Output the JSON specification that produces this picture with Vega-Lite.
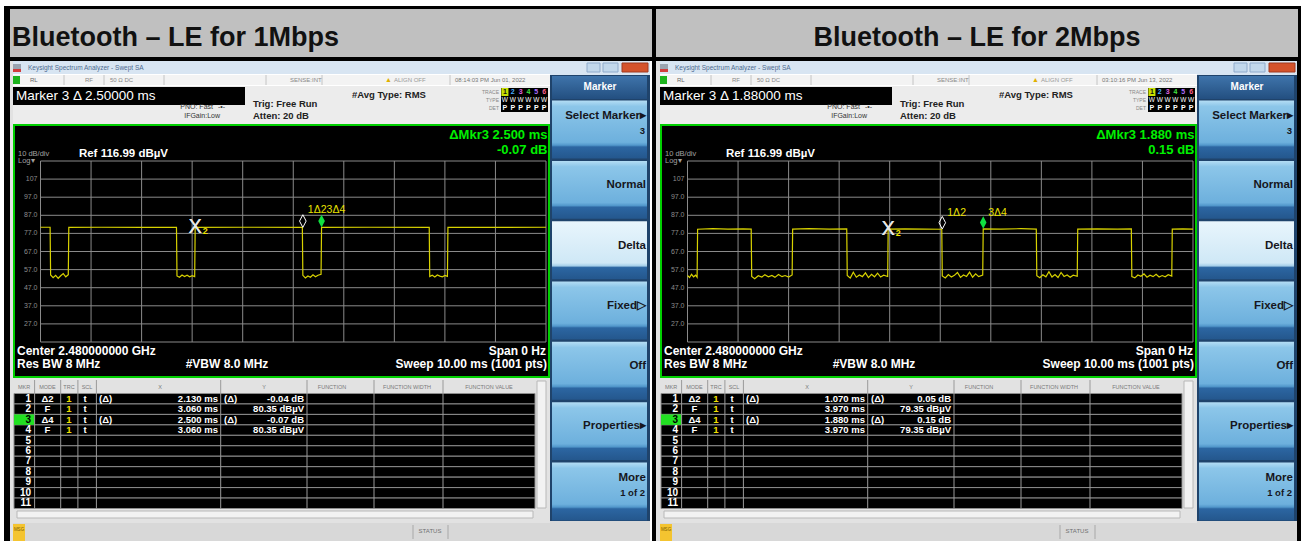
{
"$schema": "https://vega.github.io/schema/vega-lite/v6.json",
"background": "#ffffff",
"padding": {"left": 4, "top": 6, "right": 2, "bottom": 0},
"config": {"font": "Liberation Sans", "view": {"stroke": null}, "concat": {"spacing": 0}},
"spacing": 0,
"datasets": {
"hgrid": [{"db":16.99},{"db":26.99},{"db":36.99},{"db":46.99},{"db":56.99},{"db":66.99},{"db":76.99},{"db":86.99},{"db":96.99},{"db":106.99},{"db":116.99}],
"vgrid": [{"t":0},{"t":1},{"t":2},{"t":3},{"t":4},{"t":5},{"t":6},{"t":7},{"t":8},{"t":9},{"t":10}],
"ylabels": [{"db":106.99,"lab":"107"},{"db":96.99,"lab":"97.0"},{"db":86.99,"lab":"87.0"},{"db":76.99,"lab":"77.0"},{"db":66.99,"lab":"67.0"},{"db":56.99,"lab":"57.0"},{"db":46.99,"lab":"47.0"},{"db":36.99,"lab":"37.0"},{"db":26.99,"lab":"27.0"}],
"tnums": [{"n":1},{"n":2},{"n":3},{"n":4},{"n":5},{"n":6}],
"buttons": [{"key":"Select Marker","label":"Select Marker▸","sub":"3"},{"key":"Normal","label":"Normal","sub":""},{"key":"Delta","label":"Delta","sub":""},{"key":"Fixed","label":"Fixed▷","sub":""},{"key":"Off","label":"Off","sub":""},{"key":"Properties","label":"Properties▸","sub":""},{"key":"More","label":"More","sub":"1 of 2"}],
"traceL": [{"t":0,"db":80.4},{"t":0.19,"db":80.4},{"t":0.2,"db":54.0},{"t":0.25,"db":52.5},{"t":0.3,"db":53.8},{"t":0.35,"db":52.2},{"t":0.4,"db":53.6},{"t":0.45,"db":54.8},{"t":0.5,"db":53.0},{"t":0.55,"db":54.2},{"t":0.56,"db":80.3},{"t":1.2,"db":80.4},{"t":2.0,"db":80.35},{"t":2.69,"db":80.4},{"t":2.7,"db":53.5},{"t":2.75,"db":52.8},{"t":2.8,"db":54.0},{"t":2.85,"db":53.2},{"t":2.9,"db":53.9},{"t":2.95,"db":53.0},{"t":3.0,"db":53.6},{"t":3.05,"db":53.1},{"t":3.06,"db":80.35},{"t":4.0,"db":80.4},{"t":5.18,"db":80.31},{"t":5.19,"db":53.8},{"t":5.24,"db":52.4},{"t":5.29,"db":53.5},{"t":5.34,"db":52.8},{"t":5.39,"db":54.1},{"t":5.44,"db":53.0},{"t":5.49,"db":53.9},{"t":5.55,"db":54.4},{"t":5.56,"db":80.28},{"t":6.5,"db":80.4},{"t":7.69,"db":80.35},{"t":7.7,"db":53.2},{"t":7.75,"db":53.9},{"t":7.8,"db":52.9},{"t":7.85,"db":54.0},{"t":7.9,"db":53.4},{"t":7.95,"db":53.0},{"t":8.0,"db":53.8},{"t":8.05,"db":53.3},{"t":8.06,"db":80.4},{"t":9.0,"db":80.35},{"t":10,"db":80.4}],
"traceR": [{"t":0,"db":53.8},{"t":0.04,"db":52.6},{"t":0.08,"db":54.4},{"t":0.12,"db":53.0},{"t":0.16,"db":53.9},{"t":0.19,"db":52.8},{"t":0.2,"db":79.3},{"t":0.5,"db":79.6},{"t":0.8,"db":79.4},{"t":1.1,"db":79.5},{"t":1.26,"db":79.35},{"t":1.27,"db":53.2},{"t":1.33,"db":52.0},{"t":1.4,"db":53.6},{"t":1.47,"db":52.9},{"t":1.53,"db":54.1},{"t":1.6,"db":53.0},{"t":1.67,"db":53.8},{"t":1.73,"db":52.7},{"t":1.8,"db":54.3},{"t":1.87,"db":53.1},{"t":1.93,"db":53.7},{"t":2.0,"db":52.9},{"t":2.07,"db":54.0},{"t":2.08,"db":79.4},{"t":2.4,"db":79.6},{"t":2.8,"db":79.3},{"t":3.15,"db":79.5},{"t":3.16,"db":53.8},{"t":3.22,"db":52.3},{"t":3.28,"db":55.6},{"t":3.34,"db":52.8},{"t":3.4,"db":54.0},{"t":3.46,"db":53.1},{"t":3.52,"db":55.2},{"t":3.58,"db":52.6},{"t":3.64,"db":54.4},{"t":3.7,"db":53.0},{"t":3.76,"db":55.0},{"t":3.82,"db":52.9},{"t":3.88,"db":53.9},{"t":3.96,"db":53.2},{"t":3.97,"db":79.35},{"t":4.3,"db":79.5},{"t":4.7,"db":79.4},{"t":5.03,"db":79.3},{"t":5.04,"db":53.5},{"t":5.1,"db":52.4},{"t":5.16,"db":54.2},{"t":5.22,"db":52.9},{"t":5.28,"db":53.8},{"t":5.34,"db":55.4},{"t":5.4,"db":52.7},{"t":5.46,"db":54.0},{"t":5.52,"db":53.2},{"t":5.58,"db":55.6},{"t":5.64,"db":52.8},{"t":5.7,"db":54.6},{"t":5.76,"db":53.1},{"t":5.84,"db":54.0},{"t":5.85,"db":79.5},{"t":6.2,"db":79.4},{"t":6.6,"db":79.6},{"t":6.9,"db":79.4},{"t":6.91,"db":53.6},{"t":6.97,"db":52.5},{"t":7.03,"db":54.1},{"t":7.09,"db":53.0},{"t":7.15,"db":55.8},{"t":7.21,"db":52.9},{"t":7.27,"db":54.3},{"t":7.33,"db":52.6},{"t":7.39,"db":55.4},{"t":7.45,"db":53.2},{"t":7.51,"db":54.0},{"t":7.57,"db":52.8},{"t":7.63,"db":53.9},{"t":7.71,"db":53.3},{"t":7.72,"db":79.4},{"t":8.1,"db":79.5},{"t":8.5,"db":79.35},{"t":8.78,"db":79.5},{"t":8.79,"db":53.1},{"t":8.85,"db":52.4},{"t":8.91,"db":54.0},{"t":8.97,"db":53.3},{"t":9.03,"db":54.6},{"t":9.09,"db":52.8},{"t":9.15,"db":53.9},{"t":9.21,"db":53.1},{"t":9.27,"db":54.4},{"t":9.33,"db":52.9},{"t":9.39,"db":53.7},{"t":9.45,"db":53.0},{"t":9.51,"db":54.2},{"t":9.58,"db":53.4},{"t":9.59,"db":79.4},{"t":9.8,"db":79.5},{"t":10,"db":79.4}],
"markersL": [{"n":1,"t":5.19,"db":80.31,"label":"1Δ2","kind":"delta"},{"n":2,"t":3.06,"db":80.35,"label":"2","kind":"fixed"},{"n":3,"t":5.56,"db":80.28,"label":"3Δ4","kind":"active"},{"n":4,"t":3.06,"db":80.35,"label":"4","kind":"fixed"}],
"markersR": [{"n":1,"t":5.04,"db":79.4,"label":"1Δ2","kind":"delta"},{"n":2,"t":3.97,"db":79.35,"label":"2","kind":"fixed"},{"n":3,"t":5.85,"db":79.5,"label":"3Δ4","kind":"active"},{"n":4,"t":3.97,"db":79.35,"label":"4","kind":"fixed"}],
"tableL": [{"mkr":1,"mode":"Δ2","trc":"1","scl":"t","xref":"(Δ)","xval":"2.130 ms","yref":"(Δ)","yval":"-0.04 dB"},{"mkr":2,"mode":"F","trc":"1","scl":"t","xval":"3.060 ms","yval":"80.35 dBµV"},{"mkr":3,"mode":"Δ4","trc":"1","scl":"t","xref":"(Δ)","xval":"2.500 ms","yref":"(Δ)","yval":"-0.07 dB"},{"mkr":4,"mode":"F","trc":"1","scl":"t","xval":"3.060 ms","yval":"80.35 dBµV"},{"mkr":5},{"mkr":6},{"mkr":7},{"mkr":8},{"mkr":9},{"mkr":10},{"mkr":11}],
"tableR": [{"mkr":1,"mode":"Δ2","trc":"1","scl":"t","xref":"(Δ)","xval":"1.070 ms","yref":"(Δ)","yval":"0.05 dB"},{"mkr":2,"mode":"F","trc":"1","scl":"t","xval":"3.970 ms","yval":"79.35 dBµV"},{"mkr":3,"mode":"Δ4","trc":"1","scl":"t","xref":"(Δ)","xval":"1.880 ms","yref":"(Δ)","yval":"0.15 dB"},{"mkr":4,"mode":"F","trc":"1","scl":"t","xval":"3.970 ms","yval":"79.35 dBµV"},{"mkr":5},{"mkr":6},{"mkr":7},{"mkr":8},{"mkr":9},{"mkr":10},{"mkr":11}]
},
"hconcat": [
{"vconcat": [
 {"width": 648, "height": 55, "view": {"fill": "#000000", "stroke": null}, "data": {"values": [{}]},
  "layer": [
   {"mark": {"type": "rect", "color": "#c0c0c0"}, "encoding": {"x": {"value": 6}, "x2": {"value": 648}, "y": {"value": 3}, "y2": {"value": 51}}},
   {"mark": {"type": "text", "text": "Bluetooth – LE for 1Mbps", "fontSize": 27, "fontWeight": "bold", "color": "#111111", "align": "left", "baseline": "alphabetic"}, "encoding": {"x": {"value": 8}, "y": {"value": 40}}}
  ]},
 {"hconcat": [
  {"width": 6, "height": 480, "view": {"fill": "#000000", "stroke": null}, "data": {"values": [{}]}, "mark": {"type": "text", "text": ""}, "encoding": {}},
  {"width": 3, "height": 480, "view": {"fill": "#e2e2e2", "stroke": null}, "data": {"values": [{}]}, "mark": {"type": "text", "text": ""}, "encoding": {}},
  {"vconcat": [
   {"width": 537, "height": 13, "view": {"fill": "#d8e5f2", "stroke": null}, "data": {"values": [{}]},
    "layer": [
     {"mark": {"type": "rect", "color": "#9aa4b0"}, "encoding": {"x": {"value": 0}, "x2": {"value": 8}, "y": {"value": 3}, "y2": {"value": 8}}},
     {"mark": {"type": "rect", "color": "#d23c3c"}, "encoding": {"x": {"value": 0}, "x2": {"value": 8}, "y": {"value": 8}, "y2": {"value": 11}}},
     {"mark": {"type": "text", "text": "Keysight Spectrum Analyzer - Swept SA", "fontSize": 6.5, "color": "#4d6b90", "align": "left", "baseline": "middle"}, "encoding": {"x": {"value": 15}, "y": {"value": 6.5}}}
    ]},
   {"width": 537, "height": 10, "view": {"fill": "#f3f3f3", "stroke": null}, "data": {"values": [{}]},
    "layer": [
     {"mark": {"type": "rect", "color": "#1db31d"}, "encoding": {"x": {"value": 0}, "x2": {"value": 7}, "y": {"value": 1}, "y2": {"value": 9}}},
     {"mark": {"type": "rule", "color": "#c4c4c4"}, "encoding": {"x": {"value": 51}, "y": {"value": 0}, "y2": {"value": 10}}},
     {"mark": {"type": "rule", "color": "#c4c4c4"}, "encoding": {"x": {"value": 91}, "y": {"value": 0}, "y2": {"value": 10}}},
     {"mark": {"type": "rule", "color": "#c4c4c4"}, "encoding": {"x": {"value": 151}, "y": {"value": 0}, "y2": {"value": 10}}},
     {"mark": {"type": "rule", "color": "#c4c4c4"}, "encoding": {"x": {"value": 253}, "y": {"value": 0}, "y2": {"value": 10}}},
     {"mark": {"type": "rule", "color": "#c4c4c4"}, "encoding": {"x": {"value": 309}, "y": {"value": 0}, "y2": {"value": 10}}},
     {"mark": {"type": "rule", "color": "#c4c4c4"}, "encoding": {"x": {"value": 437}, "y": {"value": 0}, "y2": {"value": 10}}},
     {"mark": {"type": "text", "text": "RL", "fontSize": 6, "color": "#666666", "align": "left", "baseline": "middle"}, "encoding": {"x": {"value": 17}, "y": {"value": 5}}},
     {"mark": {"type": "text", "text": "RF", "fontSize": 6, "color": "#888888", "align": "left", "baseline": "middle"}, "encoding": {"x": {"value": 72}, "y": {"value": 5}}},
     {"mark": {"type": "text", "text": "50 Ω    DC", "fontSize": 6, "color": "#888888", "align": "left", "baseline": "middle"}, "encoding": {"x": {"value": 97}, "y": {"value": 5}}},
     {"mark": {"type": "text", "text": "SENSE:INT", "fontSize": 6, "color": "#888888", "align": "left", "baseline": "middle"}, "encoding": {"x": {"value": 277}, "y": {"value": 5}}},
     {"mark": {"type": "text", "text": "▲", "fontSize": 7, "color": "#e0b000", "align": "left", "baseline": "middle"}, "encoding": {"x": {"value": 372}, "y": {"value": 5}}},
     {"mark": {"type": "text", "text": "ALIGN OFF", "fontSize": 6, "color": "#999999", "align": "left", "baseline": "middle"}, "encoding": {"x": {"value": 381}, "y": {"value": 5}}},
     {"mark": {"type": "text", "text": "08:14:03 PM Jun 01, 2022", "fontSize": 6, "color": "#777777", "align": "left", "baseline": "middle"}, "encoding": {"x": {"value": 442}, "y": {"value": 5}}}
    ]},
   {"width": 537, "height": 38, "view": {"fill": "#ececec", "stroke": null}, "data": {"values": [{}]},
    "layer": [
     {"mark": {"type": "rect", "color": "#000000"}, "encoding": {"x": {"value": 0}, "x2": {"value": 232}, "y": {"value": 1}, "y2": {"value": 19}}},
     {"mark": {"type": "text", "text": "Marker 3 Δ 2.50000 ms", "fontSize": 13.5, "color": "#ffffff", "align": "left", "baseline": "middle"}, "encoding": {"x": {"value": 3}, "y": {"value": 10}}},
     {"mark": {"type": "text", "text": "#Avg Type: RMS", "fontSize": 9.5, "fontWeight": "bold", "color": "#222222", "align": "left", "baseline": "middle"}, "encoding": {"x": {"value": 339}, "y": {"value": 9}}},
     {"mark": {"type": "text", "text": "Trig: Free Run", "fontSize": 9.5, "fontWeight": "bold", "color": "#222222", "align": "left", "baseline": "middle"}, "encoding": {"x": {"value": 240}, "y": {"value": 18}}},
     {"mark": {"type": "text", "text": "Atten: 20 dB", "fontSize": 9.5, "fontWeight": "bold", "color": "#222222", "align": "left", "baseline": "middle"}, "encoding": {"x": {"value": 240}, "y": {"value": 30}}},
     {"mark": {"type": "text", "text": "PNO: Fast", "fontSize": 7, "color": "#333333", "align": "right", "baseline": "middle"}, "encoding": {"x": {"value": 200}, "y": {"value": 21}}},
     {"mark": {"type": "text", "text": "-•-", "fontSize": 7, "color": "#333333", "align": "left", "baseline": "middle"}, "encoding": {"x": {"value": 205}, "y": {"value": 21}}},
     {"mark": {"type": "text", "text": "IFGain:Low", "fontSize": 7, "color": "#333333", "align": "right", "baseline": "middle"}, "encoding": {"x": {"value": 207}, "y": {"value": 30}}},
     {"mark": {"type": "text", "text": "TRACE", "fontSize": 5, "color": "#888888", "align": "right", "baseline": "middle"}, "encoding": {"x": {"value": 486}, "y": {"value": 6}}},
     {"mark": {"type": "text", "text": "TYPE", "fontSize": 5, "color": "#888888", "align": "right", "baseline": "middle"}, "encoding": {"x": {"value": 486}, "y": {"value": 14}}},
     {"mark": {"type": "text", "text": "DET", "fontSize": 5, "color": "#888888", "align": "right", "baseline": "middle"}, "encoding": {"x": {"value": 486}, "y": {"value": 22}}},
     {"mark": {"type": "rect", "color": "#000000"}, "encoding": {"x": {"value": 488}, "x2": {"value": 535}, "y": {"value": 2}, "y2": {"value": 26}}},
     {"data": {"name": "tnums"}, "transform": [{"filter": "datum.n === 1"}], "mark": {"type": "rect", "color": "#c8e000"}, "encoding": {"x": {"field": "n", "type": "ordinal", "scale": {"type": "band", "domain": [1,2,3,4,5,6], "range": [488,535], "paddingInner": 0.1}, "axis": null}, "y": {"value": 2}, "y2": {"value": 10}}},
     {"data": {"name": "tnums"}, "mark": {"type": "text", "fontSize": 7, "fontWeight": "bold", "baseline": "middle", "align": "center"}, "encoding": {"x": {"field": "n", "type": "ordinal", "bandPosition": 0.5, "scale": {"type": "band", "domain": [1,2,3,4,5,6], "range": [488,535], "paddingInner": 0.1}, "axis": null}, "y": {"value": 6}, "text": {"field": "n"}, "color": {"field": "n", "type": "nominal", "scale": {"domain": [1,2,3,4,5,6], "range": ["#111111","#4ab0ff","#e060e0","#40e040","#b070ff","#ff6090"]}, "legend": null}}},
     {"data": {"name": "tnums"}, "mark": {"type": "text", "text": "W", "fontSize": 6.5, "color": "#ffffff", "baseline": "middle", "align": "center"}, "encoding": {"x": {"field": "n", "type": "ordinal", "bandPosition": 0.5, "scale": {"type": "band", "domain": [1,2,3,4,5,6], "range": [488,535], "paddingInner": 0.1}, "axis": null}, "y": {"value": 14}}},
     {"data": {"name": "tnums"}, "mark": {"type": "text", "text": "P", "fontSize": 7, "fontWeight": "bold", "color": "#ffffff", "baseline": "middle", "align": "center"}, "encoding": {"x": {"field": "n", "type": "ordinal", "bandPosition": 0.5, "scale": {"type": "band", "domain": [1,2,3,4,5,6], "range": [488,535], "paddingInner": 0.1}, "axis": null}, "y": {"value": 22}}}
    ]},
   {"width": 537, "height": 254, "view": {"fill": "#000000", "stroke": null},
    "layer": [
     {"data": {"name": "hgrid"}, "mark": {"type": "rule", "color": "#8a8a8a", "strokeWidth": 1}, "encoding": {"y": {"field": "db", "type": "quantitative", "scale": {"domain": [16.99,116.99], "range": [218,37], "nice": false, "zero": false}, "axis": null}, "x": {"datum": 0, "type": "quantitative", "scale": {"domain": [0,10], "range": [27.5,533], "nice": false, "zero": false}, "axis": null}, "x2": {"datum": 10}}},
     {"data": {"name": "vgrid"}, "mark": {"type": "rule", "color": "#8a8a8a", "strokeWidth": 1}, "encoding": {"x": {"field": "t", "type": "quantitative", "scale": {"domain": [0,10], "range": [27.5,533], "nice": false, "zero": false}, "axis": null}, "y": {"datum": 16.99, "type": "quantitative", "scale": {"domain": [16.99,116.99], "range": [218,37], "nice": false, "zero": false}, "axis": null}, "y2": {"datum": 116.99}}},
     {"data": {"name": "ylabels"}, "mark": {"type": "text", "align": "right", "baseline": "middle", "dx": -3, "fontSize": 7, "color": "#8c8c8c"}, "encoding": {"x": {"datum": 0, "type": "quantitative", "scale": {"domain": [0,10], "range": [27.5,533], "nice": false, "zero": false}, "axis": null}, "y": {"field": "db", "type": "quantitative", "scale": {"domain": [16.99,116.99], "range": [218,37], "nice": false, "zero": false}, "axis": null}, "text": {"field": "lab"}}},
     {"data": {"name": "traceL"}, "mark": {"type": "line", "color": "#d8d200", "strokeWidth": 1.2}, "encoding": {"x": {"field": "t", "type": "quantitative", "scale": {"domain": [0,10], "range": [27.5,533], "nice": false, "zero": false}, "axis": null}, "y": {"field": "db", "type": "quantitative", "scale": {"domain": [16.99,116.99], "range": [218,37], "nice": false, "zero": false}, "axis": null}}},
     {"data": {"name": "markersL"}, "transform": [{"filter": "datum.kind === 'fixed'"}], "mark": {"type": "text", "text": "X", "fontSize": 20, "color": "#e6e6e6", "align": "center", "baseline": "middle"}, "encoding": {"x": {"field": "t", "type": "quantitative", "scale": {"domain": [0,10], "range": [27.5,533], "nice": false, "zero": false}, "axis": null}, "y": {"field": "db", "type": "quantitative", "scale": {"domain": [16.99,116.99], "range": [218,37], "nice": false, "zero": false}, "axis": null}}},
     {"data": {"name": "markersL"}, "transform": [{"filter": "datum.n === 2"}], "mark": {"type": "text", "fontSize": 9, "fontWeight": "bold", "color": "#f0e400", "align": "center", "baseline": "middle", "dx": 10, "dy": 4}, "encoding": {"x": {"field": "t", "type": "quantitative", "scale": {"domain": [0,10], "range": [27.5,533], "nice": false, "zero": false}, "axis": null}, "y": {"field": "db", "type": "quantitative", "scale": {"domain": [16.99,116.99], "range": [218,37], "nice": false, "zero": false}, "axis": null}, "text": {"field": "n"}}},
     {"data": {"name": "markersL"}, "transform": [{"filter": "datum.kind === 'delta'"}], "mark": {"type": "point", "shape": "M0,-2.3L0.6,-1.15L0,0L-0.6,-1.15Z", "size": 121, "filled": false, "color": "#ffffff", "strokeWidth": 1, "opacity": 1}, "encoding": {"x": {"field": "t", "type": "quantitative", "scale": {"domain": [0,10], "range": [27.5,533], "nice": false, "zero": false}, "axis": null}, "y": {"field": "db", "type": "quantitative", "scale": {"domain": [16.99,116.99], "range": [218,37], "nice": false, "zero": false}, "axis": null}}},
     {"data": {"name": "markersL"}, "transform": [{"filter": "datum.kind === 'active'"}], "mark": {"type": "point", "shape": "M0,-2.3L0.6,-1.15L0,0L-0.6,-1.15Z", "size": 121, "filled": true, "color": "#10e040", "opacity": 1}, "encoding": {"x": {"field": "t", "type": "quantitative", "scale": {"domain": [0,10], "range": [27.5,533], "nice": false, "zero": false}, "axis": null}, "y": {"field": "db", "type": "quantitative", "scale": {"domain": [16.99,116.99], "range": [218,37], "nice": false, "zero": false}, "axis": null}}},
     {"data": {"name": "markersL"}, "transform": [{"filter": "datum.kind !== 'fixed'"}], "mark": {"type": "text", "align": "left", "baseline": "middle", "dx": 5, "dy": -17, "fontSize": 10.5, "color": "#e8e000"}, "encoding": {"x": {"field": "t", "type": "quantitative", "scale": {"domain": [0,10], "range": [27.5,533], "nice": false, "zero": false}, "axis": null}, "y": {"field": "db", "type": "quantitative", "scale": {"domain": [16.99,116.99], "range": [218,37], "nice": false, "zero": false}, "axis": null}, "text": {"field": "label"}}},
     {"data": {"values": [{}]}, "mark": {"type": "text", "text": "ΔMkr3 2.500 ms", "align": "right", "baseline": "middle", "fontSize": 13, "fontWeight": "bold", "color": "#00f000"}, "encoding": {"x": {"datum": 10.03, "type": "quantitative", "scale": {"domain": [0,10], "range": [27.5,533], "nice": false, "zero": false}, "axis": null}, "y": {"datum": 131.4, "type": "quantitative", "scale": {"domain": [16.99,116.99], "range": [218,37], "nice": false, "zero": false}, "axis": null}}},
     {"data": {"values": [{}]}, "mark": {"type": "text", "text": "-0.07 dB", "align": "right", "baseline": "middle", "fontSize": 13, "fontWeight": "bold", "color": "#00f000"}, "encoding": {"x": {"datum": 10.03, "type": "quantitative", "scale": {"domain": [0,10], "range": [27.5,533], "nice": false, "zero": false}, "axis": null}, "y": {"datum": 123.3, "type": "quantitative", "scale": {"domain": [16.99,116.99], "range": [218,37], "nice": false, "zero": false}, "axis": null}}},
     {"data": {"values": [{}]}, "mark": {"type": "text", "text": "10 dB/div", "align": "left", "baseline": "middle", "fontSize": 7.5, "color": "#a0a0a0"}, "encoding": {"x": {"datum": -0.445, "type": "quantitative", "scale": {"domain": [0,10], "range": [27.5,533], "nice": false, "zero": false}, "axis": null}, "y": {"datum": 120.9, "type": "quantitative", "scale": {"domain": [16.99,116.99], "range": [218,37], "nice": false, "zero": false}, "axis": null}}},
     {"data": {"values": [{}]}, "mark": {"type": "text", "text": "Log▾", "align": "left", "baseline": "middle", "fontSize": 7.5, "color": "#a0a0a0"}, "encoding": {"x": {"datum": -0.445, "type": "quantitative", "scale": {"domain": [0,10], "range": [27.5,533], "nice": false, "zero": false}, "axis": null}, "y": {"datum": 117.2, "type": "quantitative", "scale": {"domain": [16.99,116.99], "range": [218,37], "nice": false, "zero": false}, "axis": null}}},
     {"data": {"values": [{}]}, "mark": {"type": "text", "text": "Ref 116.99 dBµV", "align": "left", "baseline": "middle", "fontSize": 11.5, "fontWeight": "bold", "color": "#ffffff"}, "encoding": {"x": {"datum": 0.76, "type": "quantitative", "scale": {"domain": [0,10], "range": [27.5,533], "nice": false, "zero": false}, "axis": null}, "y": {"datum": 120.9, "type": "quantitative", "scale": {"domain": [16.99,116.99], "range": [218,37], "nice": false, "zero": false}, "axis": null}}},
     {"data": {"values": [{}]}, "mark": {"type": "text", "text": "Center 2.480000000 GHz", "align": "left", "baseline": "middle", "fontSize": 12, "fontWeight": "bold", "color": "#ffffff"}, "encoding": {"x": {"datum": -0.465, "type": "quantitative", "scale": {"domain": [0,10], "range": [27.5,533], "nice": false, "zero": false}, "axis": null}, "y": {"datum": 12.0, "type": "quantitative", "scale": {"domain": [16.99,116.99], "range": [218,37], "nice": false, "zero": false}, "axis": null}}},
     {"data": {"values": [{}]}, "mark": {"type": "text", "text": "Res BW 8 MHz", "align": "left", "baseline": "middle", "fontSize": 12, "fontWeight": "bold", "color": "#ffffff"}, "encoding": {"x": {"datum": -0.465, "type": "quantitative", "scale": {"domain": [0,10], "range": [27.5,533], "nice": false, "zero": false}, "axis": null}, "y": {"datum": 4.8, "type": "quantitative", "scale": {"domain": [16.99,116.99], "range": [218,37], "nice": false, "zero": false}, "axis": null}}},
     {"data": {"values": [{}]}, "mark": {"type": "text", "text": "#VBW 8.0 MHz", "align": "center", "baseline": "middle", "fontSize": 12, "fontWeight": "bold", "color": "#ffffff"}, "encoding": {"x": {"datum": 3.69, "type": "quantitative", "scale": {"domain": [0,10], "range": [27.5,533], "nice": false, "zero": false}, "axis": null}, "y": {"datum": 4.8, "type": "quantitative", "scale": {"domain": [16.99,116.99], "range": [218,37], "nice": false, "zero": false}, "axis": null}}},
     {"data": {"values": [{}]}, "mark": {"type": "text", "text": "Span 0 Hz", "align": "right", "baseline": "middle", "fontSize": 12, "fontWeight": "bold", "color": "#ffffff"}, "encoding": {"x": {"datum": 10.0, "type": "quantitative", "scale": {"domain": [0,10], "range": [27.5,533], "nice": false, "zero": false}, "axis": null}, "y": {"datum": 12.0, "type": "quantitative", "scale": {"domain": [16.99,116.99], "range": [218,37], "nice": false, "zero": false}, "axis": null}}},
     {"data": {"values": [{}]}, "mark": {"type": "text", "text": "Sweep  10.00 ms (1001 pts)", "align": "right", "baseline": "middle", "fontSize": 12, "fontWeight": "bold", "color": "#ffffff"}, "encoding": {"x": {"datum": 10.02, "type": "quantitative", "scale": {"domain": [0,10], "range": [27.5,533], "nice": false, "zero": false}, "axis": null}, "y": {"datum": 4.8, "type": "quantitative", "scale": {"domain": [16.99,116.99], "range": [218,37], "nice": false, "zero": false}, "axis": null}}},
     {"data": {"values": [{}]}, "mark": {"type": "rect", "fillOpacity": 0, "stroke": "#00d000", "strokeWidth": 2}, "encoding": {"x": {"value": 1}, "x2": {"value": 536}, "y": {"value": 1}, "y2": {"value": 253}}}
    ]},
   {"width": 537, "height": 145, "view": {"fill": "#e2e2e2", "stroke": null}, "data": {"name": "tableL"},
    "layer": [
     {"mark": {"type": "rect", "color": "#000000", "stroke": "#8c8c8c", "strokeWidth": 1}, "encoding": {"x": {"value": 1}, "x2": {"value": 522}, "y": {"field": "mkr", "type": "ordinal", "scale": {"type": "band", "domain": [1,2,3,4,5,6,7,8,9,10,11], "range": [15.5,130.5], "paddingInner": 0, "paddingOuter": 0}, "axis": null}}},
     {"transform": [{"filter": "datum.mkr === 3"}], "mark": {"type": "rect", "color": "#22e022"}, "encoding": {"x": {"value": 1}, "x2": {"value": 21.6}, "y": {"field": "mkr", "type": "ordinal", "scale": {"type": "band", "domain": [1,2,3,4,5,6,7,8,9,10,11], "range": [15.5,130.5], "paddingInner": 0, "paddingOuter": 0}, "axis": null}}},
     {"data": {"values": [{}]}, "mark": {"type": "rule", "color": "#9a9a9a"}, "encoding": {"x": {"value": 21.6}, "y": {"value": 2}, "y2": {"value": 130.5}}},
     {"data": {"values": [{}]}, "mark": {"type": "rule", "color": "#9a9a9a"}, "encoding": {"x": {"value": 47.7}, "y": {"value": 2}, "y2": {"value": 130.5}}},
     {"data": {"values": [{}]}, "mark": {"type": "rule", "color": "#9a9a9a"}, "encoding": {"x": {"value": 64.9}, "y": {"value": 2}, "y2": {"value": 130.5}}},
     {"data": {"values": [{}]}, "mark": {"type": "rule", "color": "#9a9a9a"}, "encoding": {"x": {"value": 83.4}, "y": {"value": 2}, "y2": {"value": 130.5}}},
     {"data": {"values": [{}]}, "mark": {"type": "rule", "color": "#9a9a9a"}, "encoding": {"x": {"value": 207.7}, "y": {"value": 2}, "y2": {"value": 130.5}}},
     {"data": {"values": [{}]}, "mark": {"type": "rule", "color": "#9a9a9a"}, "encoding": {"x": {"value": 294}, "y": {"value": 2}, "y2": {"value": 130.5}}},
     {"data": {"values": [{}]}, "mark": {"type": "rule", "color": "#9a9a9a"}, "encoding": {"x": {"value": 361}, "y": {"value": 2}, "y2": {"value": 130.5}}},
     {"data": {"values": [{}]}, "mark": {"type": "rule", "color": "#9a9a9a"}, "encoding": {"x": {"value": 430}, "y": {"value": 2}, "y2": {"value": 130.5}}},
     {"data": {"values": [{}]}, "mark": {"type": "rect", "color": "#f2f2f2", "stroke": "#b8b8b8", "strokeWidth": 1}, "encoding": {"x": {"value": 524}, "x2": {"value": 533}, "y": {"value": 3}, "y2": {"value": 130}}},
     {"data": {"values": [{}]}, "mark": {"type": "rect", "color": "#f2f2f2", "stroke": "#b8b8b8", "strokeWidth": 1}, "encoding": {"x": {"value": 4}, "x2": {"value": 520}, "y": {"value": 133}, "y2": {"value": 140}}},
     {"data": {"values": [{}]}, "mark": {"type": "text", "text": "MKR", "fontSize": 5.5, "color": "#7a7a7a", "align": "center", "baseline": "middle"}, "encoding": {"x": {"value": 11}, "y": {"value": 8.5}}},
     {"data": {"values": [{}]}, "mark": {"type": "text", "text": "MODE", "fontSize": 5.5, "color": "#7a7a7a", "align": "center", "baseline": "middle"}, "encoding": {"x": {"value": 34.5}, "y": {"value": 8.5}}},
     {"data": {"values": [{}]}, "mark": {"type": "text", "text": "TRC", "fontSize": 5.5, "color": "#7a7a7a", "align": "center", "baseline": "middle"}, "encoding": {"x": {"value": 56}, "y": {"value": 8.5}}},
     {"data": {"values": [{}]}, "mark": {"type": "text", "text": "SCL", "fontSize": 5.5, "color": "#7a7a7a", "align": "center", "baseline": "middle"}, "encoding": {"x": {"value": 74}, "y": {"value": 8.5}}},
     {"data": {"values": [{}]}, "mark": {"type": "text", "text": "X", "fontSize": 5.5, "color": "#7a7a7a", "align": "center", "baseline": "middle"}, "encoding": {"x": {"value": 147}, "y": {"value": 8.5}}},
     {"data": {"values": [{}]}, "mark": {"type": "text", "text": "Y", "fontSize": 5.5, "color": "#7a7a7a", "align": "center", "baseline": "middle"}, "encoding": {"x": {"value": 251}, "y": {"value": 8.5}}},
     {"data": {"values": [{}]}, "mark": {"type": "text", "text": "FUNCTION", "fontSize": 5.5, "color": "#7a7a7a", "align": "center", "baseline": "middle"}, "encoding": {"x": {"value": 319}, "y": {"value": 8.5}}},
     {"data": {"values": [{}]}, "mark": {"type": "text", "text": "FUNCTION WIDTH", "fontSize": 5.5, "color": "#7a7a7a", "align": "center", "baseline": "middle"}, "encoding": {"x": {"value": 394}, "y": {"value": 8.5}}},
     {"data": {"values": [{}]}, "mark": {"type": "text", "text": "FUNCTION VALUE", "fontSize": 5.5, "color": "#7a7a7a", "align": "center", "baseline": "middle"}, "encoding": {"x": {"value": 476}, "y": {"value": 8.5}}},
     {"mark": {"type": "text", "fontSize": 10, "fontWeight": "bold", "align": "right", "baseline": "middle"}, "encoding": {"x": {"value": 18}, "y": {"field": "mkr", "type": "ordinal", "bandPosition": 0.5, "scale": {"type": "band", "domain": [1,2,3,4,5,6,7,8,9,10,11], "range": [15.5,130.5], "paddingInner": 0, "paddingOuter": 0}, "axis": null}, "text": {"field": "mkr"}, "color": {"condition": {"test": "datum.mkr === 3", "value": "#000000"}, "value": "#ffffff"}}},
     {"transform": [{"filter": "datum.mode"}], "mark": {"type": "text", "fontSize": 9.5, "fontWeight": "bold", "color": "#ffffff", "align": "center", "baseline": "middle"}, "encoding": {"x": {"value": 34.5}, "y": {"field": "mkr", "type": "ordinal", "bandPosition": 0.5, "scale": {"type": "band", "domain": [1,2,3,4,5,6,7,8,9,10,11], "range": [15.5,130.5], "paddingInner": 0, "paddingOuter": 0}, "axis": null}, "text": {"field": "mode"}}},
     {"transform": [{"filter": "datum.trc"}], "mark": {"type": "text", "fontSize": 9.5, "fontWeight": "bold", "color": "#f0e000", "align": "center", "baseline": "middle"}, "encoding": {"x": {"value": 56}, "y": {"field": "mkr", "type": "ordinal", "bandPosition": 0.5, "scale": {"type": "band", "domain": [1,2,3,4,5,6,7,8,9,10,11], "range": [15.5,130.5], "paddingInner": 0, "paddingOuter": 0}, "axis": null}, "text": {"field": "trc"}}},
     {"transform": [{"filter": "datum.scl"}], "mark": {"type": "text", "fontSize": 9.5, "fontWeight": "bold", "color": "#ffffff", "align": "center", "baseline": "middle"}, "encoding": {"x": {"value": 72}, "y": {"field": "mkr", "type": "ordinal", "bandPosition": 0.5, "scale": {"type": "band", "domain": [1,2,3,4,5,6,7,8,9,10,11], "range": [15.5,130.5], "paddingInner": 0, "paddingOuter": 0}, "axis": null}, "text": {"field": "scl"}}},
     {"transform": [{"filter": "datum.xref"}], "mark": {"type": "text", "fontSize": 9.5, "fontWeight": "bold", "color": "#ffffff", "align": "left", "baseline": "middle"}, "encoding": {"x": {"value": 86}, "y": {"field": "mkr", "type": "ordinal", "bandPosition": 0.5, "scale": {"type": "band", "domain": [1,2,3,4,5,6,7,8,9,10,11], "range": [15.5,130.5], "paddingInner": 0, "paddingOuter": 0}, "axis": null}, "text": {"field": "xref"}}},
     {"transform": [{"filter": "datum.xval"}], "mark": {"type": "text", "fontSize": 9.5, "fontWeight": "bold", "color": "#ffffff", "align": "right", "baseline": "middle"}, "encoding": {"x": {"value": 205}, "y": {"field": "mkr", "type": "ordinal", "bandPosition": 0.5, "scale": {"type": "band", "domain": [1,2,3,4,5,6,7,8,9,10,11], "range": [15.5,130.5], "paddingInner": 0, "paddingOuter": 0}, "axis": null}, "text": {"field": "xval"}}},
     {"transform": [{"filter": "datum.yref"}], "mark": {"type": "text", "fontSize": 9.5, "fontWeight": "bold", "color": "#ffffff", "align": "left", "baseline": "middle"}, "encoding": {"x": {"value": 211}, "y": {"field": "mkr", "type": "ordinal", "bandPosition": 0.5, "scale": {"type": "band", "domain": [1,2,3,4,5,6,7,8,9,10,11], "range": [15.5,130.5], "paddingInner": 0, "paddingOuter": 0}, "axis": null}, "text": {"field": "yref"}}},
     {"transform": [{"filter": "datum.yval"}], "mark": {"type": "text", "fontSize": 9.5, "fontWeight": "bold", "color": "#ffffff", "align": "right", "baseline": "middle"}, "encoding": {"x": {"value": 291}, "y": {"field": "mkr", "type": "ordinal", "bandPosition": 0.5, "scale": {"type": "band", "domain": [1,2,3,4,5,6,7,8,9,10,11], "range": [15.5,130.5], "paddingInner": 0, "paddingOuter": 0}, "axis": null}, "text": {"field": "yval"}}}
    ]},
   {"width": 537, "height": 20, "view": {"fill": "#d8d8d8", "stroke": null}, "data": {"values": [{}]},
    "layer": [
     {"mark": {"type": "rect", "color": "#f4c430"}, "encoding": {"x": {"value": 0}, "x2": {"value": 12}, "y": {"value": 1}, "y2": {"value": 19}}},
     {"mark": {"type": "text", "text": "MSG", "fontSize": 4.5, "color": "#806000", "align": "center", "baseline": "middle"}, "encoding": {"x": {"value": 6}, "y": {"value": 7}}},
     {"mark": {"type": "rule", "color": "#a8a8a8"}, "encoding": {"x": {"value": 400}, "y": {"value": 2}, "y2": {"value": 16}}},
     {"mark": {"type": "rule", "color": "#a8a8a8"}, "encoding": {"x": {"value": 435}, "y": {"value": 2}, "y2": {"value": 16}}},
     {"mark": {"type": "text", "text": "STATUS", "fontSize": 6, "color": "#707070", "align": "center", "baseline": "middle"}, "encoding": {"x": {"value": 417}, "y": {"value": 8}}}
    ]}
  ], "spacing": 0},
  {"vconcat": [
   {"width": 100, "height": 14, "view": {"fill": "#d8e5f2", "stroke": null}, "data": {"values": [{}]},
    "layer": [
     {"mark": {"type": "rect", "color": "#c2d8ec", "stroke": "#8eaacb"}, "encoding": {"x": {"value": 37}, "x2": {"value": 50}, "y": {"value": 2}, "y2": {"value": 11}}},
     {"mark": {"type": "rect", "color": "#c2d8ec", "stroke": "#8eaacb"}, "encoding": {"x": {"value": 53}, "x2": {"value": 68}, "y": {"value": 2}, "y2": {"value": 11}}},
     {"mark": {"type": "rect", "color": "#d4532c", "stroke": "#a03a20"}, "encoding": {"x": {"value": 72}, "x2": {"value": 98}, "y": {"value": 2}, "y2": {"value": 11}}}
    ]},
   {"width": 100, "height": 25, "view": {"fill": "#1f436b", "stroke": null}, "data": {"values": [{}]},
    "layer": [
     {"mark": {"type": "rect", "fill": {"gradient": "linear", "x1": 0, "y1": 0, "x2": 0, "y2": 1, "stops": [{"offset": 0, "color": "#3f74ab"}, {"offset": 1, "color": "#234f80"}]}}, "encoding": {"x": {"value": 2}, "x2": {"value": 97}, "y": {"value": 1}, "y2": {"value": 24}}},
     {"mark": {"type": "text", "text": "Marker", "fontSize": 10, "fontWeight": "bold", "color": "#ffffff", "align": "center", "baseline": "middle"}, "encoding": {"x": {"value": 50}, "y": {"value": 12}}}
    ]},
   {"width": 100, "height": 421, "view": {"fill": "#1f436b", "stroke": null}, "data": {"name": "buttons"},
    "layer": [
     {"transform": [{"filter": "datum.key !== 'Delta'"}], "mark": {"type": "rect", "fill": {"gradient": "linear", "x1": 0, "y1": 0, "x2": 0, "y2": 1, "stops": [{"offset": 0, "color": "#b4ddf4"}, {"offset": 0.1, "color": "#8cc6e9"}, {"offset": 0.72, "color": "#6db0dd"}, {"offset": 0.77, "color": "#5298cc"}, {"offset": 0.8, "color": "#2c66a2"}, {"offset": 1, "color": "#24578d"}]}}, "encoding": {"x": {"value": 2}, "x2": {"value": 97}, "y": {"field": "key", "type": "nominal", "sort": null, "scale": {"type": "band", "domain": ["Select Marker","Normal","Delta","Fixed","Off","Properties","More"], "paddingInner": 0.04, "paddingOuter": 0.01}, "axis": null}}},
     {"transform": [{"filter": "datum.key === 'Delta'"}], "mark": {"type": "rect", "fill": {"gradient": "linear", "x1": 0, "y1": 0, "x2": 0, "y2": 1, "stops": [{"offset": 0, "color": "#e8f5fc"}, {"offset": 0.72, "color": "#cfe8f6"}, {"offset": 0.77, "color": "#a6cfea"}, {"offset": 0.8, "color": "#2c66a2"}, {"offset": 1, "color": "#24578d"}]}}, "encoding": {"x": {"value": 2}, "x2": {"value": 97}, "y": {"field": "key", "type": "nominal", "sort": null, "scale": {"type": "band", "domain": ["Select Marker","Normal","Delta","Fixed","Off","Properties","More"], "paddingInner": 0.04, "paddingOuter": 0.01}, "axis": null}}},
     {"transform": [{"filter": "datum.sub === ''"}], "mark": {"type": "text", "align": "right", "baseline": "middle", "fontSize": 11.5, "fontWeight": "bold", "color": "#161620"}, "encoding": {"x": {"value": 96}, "y": {"field": "key", "type": "nominal", "sort": null, "bandPosition": 0.42, "scale": {"type": "band", "domain": ["Select Marker","Normal","Delta","Fixed","Off","Properties","More"], "paddingInner": 0.04, "paddingOuter": 0.01}, "axis": null}, "text": {"field": "label"}}},
     {"transform": [{"filter": "datum.sub !== ''"}], "mark": {"type": "text", "align": "right", "baseline": "middle", "fontSize": 11.5, "fontWeight": "bold", "color": "#161620"}, "encoding": {"x": {"value": 96}, "y": {"field": "key", "type": "nominal", "sort": null, "bandPosition": 0.26, "scale": {"type": "band", "domain": ["Select Marker","Normal","Delta","Fixed","Off","Properties","More"], "paddingInner": 0.04, "paddingOuter": 0.01}, "axis": null}, "text": {"field": "label"}}},
     {"transform": [{"filter": "datum.sub !== ''"}], "mark": {"type": "text", "align": "right", "baseline": "middle", "fontSize": 9.5, "fontWeight": "bold", "color": "#161620"}, "encoding": {"x": {"value": 95}, "y": {"field": "key", "type": "nominal", "sort": null, "bandPosition": 0.52, "scale": {"type": "band", "domain": ["Select Marker","Normal","Delta","Fixed","Off","Properties","More"], "paddingInner": 0.04, "paddingOuter": 0.01}, "axis": null}, "text": {"field": "sub"}}}
    ]},
   {"width": 100, "height": 20, "view": {"fill": "#d8d8d8", "stroke": null}, "data": {"values": [{}]}, "mark": {"type": "text", "text": ""}, "encoding": {}}
  ], "spacing": 0},
  {"width": 2, "height": 480, "view": {"fill": "#ffffff", "stroke": null}, "data": {"values": [{}]}, "mark": {"type": "text", "text": ""}, "encoding": {}}
 ], "spacing": 0}
], "spacing": 0},
{"vconcat": [
 {"width": 649, "height": 55, "view": {"fill": "#000000", "stroke": null}, "data": {"values": [{}]},
  "layer": [
   {"mark": {"type": "rect", "color": "#c0c0c0"}, "encoding": {"x": {"value": 4}, "x2": {"value": 646}, "y": {"value": 3}, "y2": {"value": 51}}},
   {"mark": {"type": "text", "text": "Bluetooth – LE for 2Mbps", "fontSize": 27, "fontWeight": "bold", "color": "#111111", "align": "center", "baseline": "alphabetic"}, "encoding": {"x": {"value": 325}, "y": {"value": 40}}}
  ]},
 {"hconcat": [
  {"width": 4, "height": 480, "view": {"fill": "#000000", "stroke": null}, "data": {"values": [{}]}, "mark": {"type": "text", "text": ""}, "encoding": {}},
  {"width": 4, "height": 480, "view": {"fill": "#e2e2e2", "stroke": null}, "data": {"values": [{}]}, "mark": {"type": "text", "text": ""}, "encoding": {}},
  {"vconcat": [
   {"width": 537, "height": 13, "view": {"fill": "#d8e5f2", "stroke": null}, "data": {"values": [{}]},
    "layer": [
     {"mark": {"type": "rect", "color": "#9aa4b0"}, "encoding": {"x": {"value": 0}, "x2": {"value": 8}, "y": {"value": 3}, "y2": {"value": 8}}},
     {"mark": {"type": "rect", "color": "#d23c3c"}, "encoding": {"x": {"value": 0}, "x2": {"value": 8}, "y": {"value": 8}, "y2": {"value": 11}}},
     {"mark": {"type": "text", "text": "Keysight Spectrum Analyzer - Swept SA", "fontSize": 6.5, "color": "#4d6b90", "align": "left", "baseline": "middle"}, "encoding": {"x": {"value": 15}, "y": {"value": 6.5}}}
    ]},
   {"width": 537, "height": 10, "view": {"fill": "#f3f3f3", "stroke": null}, "data": {"values": [{}]},
    "layer": [
     {"mark": {"type": "rect", "color": "#1db31d"}, "encoding": {"x": {"value": 0}, "x2": {"value": 7}, "y": {"value": 1}, "y2": {"value": 9}}},
     {"mark": {"type": "rule", "color": "#c4c4c4"}, "encoding": {"x": {"value": 51}, "y": {"value": 0}, "y2": {"value": 10}}},
     {"mark": {"type": "rule", "color": "#c4c4c4"}, "encoding": {"x": {"value": 91}, "y": {"value": 0}, "y2": {"value": 10}}},
     {"mark": {"type": "rule", "color": "#c4c4c4"}, "encoding": {"x": {"value": 151}, "y": {"value": 0}, "y2": {"value": 10}}},
     {"mark": {"type": "rule", "color": "#c4c4c4"}, "encoding": {"x": {"value": 253}, "y": {"value": 0}, "y2": {"value": 10}}},
     {"mark": {"type": "rule", "color": "#c4c4c4"}, "encoding": {"x": {"value": 309}, "y": {"value": 0}, "y2": {"value": 10}}},
     {"mark": {"type": "rule", "color": "#c4c4c4"}, "encoding": {"x": {"value": 437}, "y": {"value": 0}, "y2": {"value": 10}}},
     {"mark": {"type": "text", "text": "RL", "fontSize": 6, "color": "#666666", "align": "left", "baseline": "middle"}, "encoding": {"x": {"value": 17}, "y": {"value": 5}}},
     {"mark": {"type": "text", "text": "RF", "fontSize": 6, "color": "#888888", "align": "left", "baseline": "middle"}, "encoding": {"x": {"value": 72}, "y": {"value": 5}}},
     {"mark": {"type": "text", "text": "50 Ω    DC", "fontSize": 6, "color": "#888888", "align": "left", "baseline": "middle"}, "encoding": {"x": {"value": 97}, "y": {"value": 5}}},
     {"mark": {"type": "text", "text": "SENSE:INT", "fontSize": 6, "color": "#888888", "align": "left", "baseline": "middle"}, "encoding": {"x": {"value": 277}, "y": {"value": 5}}},
     {"mark": {"type": "text", "text": "▲", "fontSize": 7, "color": "#e0b000", "align": "left", "baseline": "middle"}, "encoding": {"x": {"value": 372}, "y": {"value": 5}}},
     {"mark": {"type": "text", "text": "ALIGN OFF", "fontSize": 6, "color": "#999999", "align": "left", "baseline": "middle"}, "encoding": {"x": {"value": 381}, "y": {"value": 5}}},
     {"mark": {"type": "text", "text": "03:10:16 PM Jun 13, 2022", "fontSize": 6, "color": "#777777", "align": "left", "baseline": "middle"}, "encoding": {"x": {"value": 442}, "y": {"value": 5}}}
    ]},
   {"width": 537, "height": 38, "view": {"fill": "#ececec", "stroke": null}, "data": {"values": [{}]},
    "layer": [
     {"mark": {"type": "rect", "color": "#000000"}, "encoding": {"x": {"value": 0}, "x2": {"value": 232}, "y": {"value": 1}, "y2": {"value": 19}}},
     {"mark": {"type": "text", "text": "Marker 3 Δ 1.88000 ms", "fontSize": 13.5, "color": "#ffffff", "align": "left", "baseline": "middle"}, "encoding": {"x": {"value": 3}, "y": {"value": 10}}},
     {"mark": {"type": "text", "text": "#Avg Type: RMS", "fontSize": 9.5, "fontWeight": "bold", "color": "#222222", "align": "left", "baseline": "middle"}, "encoding": {"x": {"value": 339}, "y": {"value": 9}}},
     {"mark": {"type": "text", "text": "Trig: Free Run", "fontSize": 9.5, "fontWeight": "bold", "color": "#222222", "align": "left", "baseline": "middle"}, "encoding": {"x": {"value": 240}, "y": {"value": 18}}},
     {"mark": {"type": "text", "text": "Atten: 20 dB", "fontSize": 9.5, "fontWeight": "bold", "color": "#222222", "align": "left", "baseline": "middle"}, "encoding": {"x": {"value": 240}, "y": {"value": 30}}},
     {"mark": {"type": "text", "text": "PNO: Fast", "fontSize": 7, "color": "#333333", "align": "right", "baseline": "middle"}, "encoding": {"x": {"value": 200}, "y": {"value": 21}}},
     {"mark": {"type": "text", "text": "-•-", "fontSize": 7, "color": "#333333", "align": "left", "baseline": "middle"}, "encoding": {"x": {"value": 205}, "y": {"value": 21}}},
     {"mark": {"type": "text", "text": "IFGain:Low", "fontSize": 7, "color": "#333333", "align": "right", "baseline": "middle"}, "encoding": {"x": {"value": 207}, "y": {"value": 30}}},
     {"mark": {"type": "text", "text": "TRACE", "fontSize": 5, "color": "#888888", "align": "right", "baseline": "middle"}, "encoding": {"x": {"value": 486}, "y": {"value": 6}}},
     {"mark": {"type": "text", "text": "TYPE", "fontSize": 5, "color": "#888888", "align": "right", "baseline": "middle"}, "encoding": {"x": {"value": 486}, "y": {"value": 14}}},
     {"mark": {"type": "text", "text": "DET", "fontSize": 5, "color": "#888888", "align": "right", "baseline": "middle"}, "encoding": {"x": {"value": 486}, "y": {"value": 22}}},
     {"mark": {"type": "rect", "color": "#000000"}, "encoding": {"x": {"value": 488}, "x2": {"value": 535}, "y": {"value": 2}, "y2": {"value": 26}}},
     {"data": {"name": "tnums"}, "transform": [{"filter": "datum.n === 1"}], "mark": {"type": "rect", "color": "#c8e000"}, "encoding": {"x": {"field": "n", "type": "ordinal", "scale": {"type": "band", "domain": [1,2,3,4,5,6], "range": [488,535], "paddingInner": 0.1}, "axis": null}, "y": {"value": 2}, "y2": {"value": 10}}},
     {"data": {"name": "tnums"}, "mark": {"type": "text", "fontSize": 7, "fontWeight": "bold", "baseline": "middle", "align": "center"}, "encoding": {"x": {"field": "n", "type": "ordinal", "bandPosition": 0.5, "scale": {"type": "band", "domain": [1,2,3,4,5,6], "range": [488,535], "paddingInner": 0.1}, "axis": null}, "y": {"value": 6}, "text": {"field": "n"}, "color": {"field": "n", "type": "nominal", "scale": {"domain": [1,2,3,4,5,6], "range": ["#111111","#4ab0ff","#e060e0","#40e040","#b070ff","#ff6090"]}, "legend": null}}},
     {"data": {"name": "tnums"}, "mark": {"type": "text", "text": "W", "fontSize": 6.5, "color": "#ffffff", "baseline": "middle", "align": "center"}, "encoding": {"x": {"field": "n", "type": "ordinal", "bandPosition": 0.5, "scale": {"type": "band", "domain": [1,2,3,4,5,6], "range": [488,535], "paddingInner": 0.1}, "axis": null}, "y": {"value": 14}}},
     {"data": {"name": "tnums"}, "mark": {"type": "text", "text": "P", "fontSize": 7, "fontWeight": "bold", "color": "#ffffff", "baseline": "middle", "align": "center"}, "encoding": {"x": {"field": "n", "type": "ordinal", "bandPosition": 0.5, "scale": {"type": "band", "domain": [1,2,3,4,5,6], "range": [488,535], "paddingInner": 0.1}, "axis": null}, "y": {"value": 22}}}
    ]},
   {"width": 537, "height": 254, "view": {"fill": "#000000", "stroke": null},
    "layer": [
     {"data": {"name": "hgrid"}, "mark": {"type": "rule", "color": "#8a8a8a", "strokeWidth": 1}, "encoding": {"y": {"field": "db", "type": "quantitative", "scale": {"domain": [16.99,116.99], "range": [218,37], "nice": false, "zero": false}, "axis": null}, "x": {"datum": 0, "type": "quantitative", "scale": {"domain": [0,10], "range": [27.5,533], "nice": false, "zero": false}, "axis": null}, "x2": {"datum": 10}}},
     {"data": {"name": "vgrid"}, "mark": {"type": "rule", "color": "#8a8a8a", "strokeWidth": 1}, "encoding": {"x": {"field": "t", "type": "quantitative", "scale": {"domain": [0,10], "range": [27.5,533], "nice": false, "zero": false}, "axis": null}, "y": {"datum": 16.99, "type": "quantitative", "scale": {"domain": [16.99,116.99], "range": [218,37], "nice": false, "zero": false}, "axis": null}, "y2": {"datum": 116.99}}},
     {"data": {"name": "ylabels"}, "mark": {"type": "text", "align": "right", "baseline": "middle", "dx": -3, "fontSize": 7, "color": "#8c8c8c"}, "encoding": {"x": {"datum": 0, "type": "quantitative", "scale": {"domain": [0,10], "range": [27.5,533], "nice": false, "zero": false}, "axis": null}, "y": {"field": "db", "type": "quantitative", "scale": {"domain": [16.99,116.99], "range": [218,37], "nice": false, "zero": false}, "axis": null}, "text": {"field": "lab"}}},
     {"data": {"name": "traceR"}, "mark": {"type": "line", "color": "#d8d200", "strokeWidth": 1.2}, "encoding": {"x": {"field": "t", "type": "quantitative", "scale": {"domain": [0,10], "range": [27.5,533], "nice": false, "zero": false}, "axis": null}, "y": {"field": "db", "type": "quantitative", "scale": {"domain": [16.99,116.99], "range": [218,37], "nice": false, "zero": false}, "axis": null}}},
     {"data": {"name": "markersR"}, "transform": [{"filter": "datum.kind === 'fixed'"}], "mark": {"type": "text", "text": "X", "fontSize": 20, "color": "#e6e6e6", "align": "center", "baseline": "middle"}, "encoding": {"x": {"field": "t", "type": "quantitative", "scale": {"domain": [0,10], "range": [27.5,533], "nice": false, "zero": false}, "axis": null}, "y": {"field": "db", "type": "quantitative", "scale": {"domain": [16.99,116.99], "range": [218,37], "nice": false, "zero": false}, "axis": null}}},
     {"data": {"name": "markersR"}, "transform": [{"filter": "datum.n === 2"}], "mark": {"type": "text", "fontSize": 9, "fontWeight": "bold", "color": "#f0e400", "align": "center", "baseline": "middle", "dx": 10, "dy": 4}, "encoding": {"x": {"field": "t", "type": "quantitative", "scale": {"domain": [0,10], "range": [27.5,533], "nice": false, "zero": false}, "axis": null}, "y": {"field": "db", "type": "quantitative", "scale": {"domain": [16.99,116.99], "range": [218,37], "nice": false, "zero": false}, "axis": null}, "text": {"field": "n"}}},
     {"data": {"name": "markersR"}, "transform": [{"filter": "datum.kind === 'delta'"}], "mark": {"type": "point", "shape": "M0,-2.3L0.6,-1.15L0,0L-0.6,-1.15Z", "size": 121, "filled": false, "color": "#ffffff", "strokeWidth": 1, "opacity": 1}, "encoding": {"x": {"field": "t", "type": "quantitative", "scale": {"domain": [0,10], "range": [27.5,533], "nice": false, "zero": false}, "axis": null}, "y": {"field": "db", "type": "quantitative", "scale": {"domain": [16.99,116.99], "range": [218,37], "nice": false, "zero": false}, "axis": null}}},
     {"data": {"name": "markersR"}, "transform": [{"filter": "datum.kind === 'active'"}], "mark": {"type": "point", "shape": "M0,-2.3L0.6,-1.15L0,0L-0.6,-1.15Z", "size": 121, "filled": true, "color": "#10e040", "opacity": 1}, "encoding": {"x": {"field": "t", "type": "quantitative", "scale": {"domain": [0,10], "range": [27.5,533], "nice": false, "zero": false}, "axis": null}, "y": {"field": "db", "type": "quantitative", "scale": {"domain": [16.99,116.99], "range": [218,37], "nice": false, "zero": false}, "axis": null}}},
     {"data": {"name": "markersR"}, "transform": [{"filter": "datum.kind !== 'fixed'"}], "mark": {"type": "text", "align": "left", "baseline": "middle", "dx": 5, "dy": -16, "fontSize": 10.5, "color": "#e8e000"}, "encoding": {"x": {"field": "t", "type": "quantitative", "scale": {"domain": [0,10], "range": [27.5,533], "nice": false, "zero": false}, "axis": null}, "y": {"field": "db", "type": "quantitative", "scale": {"domain": [16.99,116.99], "range": [218,37], "nice": false, "zero": false}, "axis": null}, "text": {"field": "label"}}},
     {"data": {"values": [{}]}, "mark": {"type": "text", "text": "ΔMkr3 1.880 ms", "align": "right", "baseline": "middle", "fontSize": 13, "fontWeight": "bold", "color": "#00f000"}, "encoding": {"x": {"datum": 10.03, "type": "quantitative", "scale": {"domain": [0,10], "range": [27.5,533], "nice": false, "zero": false}, "axis": null}, "y": {"datum": 131.4, "type": "quantitative", "scale": {"domain": [16.99,116.99], "range": [218,37], "nice": false, "zero": false}, "axis": null}}},
     {"data": {"values": [{}]}, "mark": {"type": "text", "text": "0.15 dB", "align": "right", "baseline": "middle", "fontSize": 13, "fontWeight": "bold", "color": "#00f000"}, "encoding": {"x": {"datum": 10.03, "type": "quantitative", "scale": {"domain": [0,10], "range": [27.5,533], "nice": false, "zero": false}, "axis": null}, "y": {"datum": 123.3, "type": "quantitative", "scale": {"domain": [16.99,116.99], "range": [218,37], "nice": false, "zero": false}, "axis": null}}},
     {"data": {"values": [{}]}, "mark": {"type": "text", "text": "10 dB/div", "align": "left", "baseline": "middle", "fontSize": 7.5, "color": "#a0a0a0"}, "encoding": {"x": {"datum": -0.445, "type": "quantitative", "scale": {"domain": [0,10], "range": [27.5,533], "nice": false, "zero": false}, "axis": null}, "y": {"datum": 120.9, "type": "quantitative", "scale": {"domain": [16.99,116.99], "range": [218,37], "nice": false, "zero": false}, "axis": null}}},
     {"data": {"values": [{}]}, "mark": {"type": "text", "text": "Log▾", "align": "left", "baseline": "middle", "fontSize": 7.5, "color": "#a0a0a0"}, "encoding": {"x": {"datum": -0.445, "type": "quantitative", "scale": {"domain": [0,10], "range": [27.5,533], "nice": false, "zero": false}, "axis": null}, "y": {"datum": 117.2, "type": "quantitative", "scale": {"domain": [16.99,116.99], "range": [218,37], "nice": false, "zero": false}, "axis": null}}},
     {"data": {"values": [{}]}, "mark": {"type": "text", "text": "Ref 116.99 dBµV", "align": "left", "baseline": "middle", "fontSize": 11.5, "fontWeight": "bold", "color": "#ffffff"}, "encoding": {"x": {"datum": 0.76, "type": "quantitative", "scale": {"domain": [0,10], "range": [27.5,533], "nice": false, "zero": false}, "axis": null}, "y": {"datum": 120.9, "type": "quantitative", "scale": {"domain": [16.99,116.99], "range": [218,37], "nice": false, "zero": false}, "axis": null}}},
     {"data": {"values": [{}]}, "mark": {"type": "text", "text": "Center 2.480000000 GHz", "align": "left", "baseline": "middle", "fontSize": 12, "fontWeight": "bold", "color": "#ffffff"}, "encoding": {"x": {"datum": -0.465, "type": "quantitative", "scale": {"domain": [0,10], "range": [27.5,533], "nice": false, "zero": false}, "axis": null}, "y": {"datum": 12.0, "type": "quantitative", "scale": {"domain": [16.99,116.99], "range": [218,37], "nice": false, "zero": false}, "axis": null}}},
     {"data": {"values": [{}]}, "mark": {"type": "text", "text": "Res BW 8 MHz", "align": "left", "baseline": "middle", "fontSize": 12, "fontWeight": "bold", "color": "#ffffff"}, "encoding": {"x": {"datum": -0.465, "type": "quantitative", "scale": {"domain": [0,10], "range": [27.5,533], "nice": false, "zero": false}, "axis": null}, "y": {"datum": 4.8, "type": "quantitative", "scale": {"domain": [16.99,116.99], "range": [218,37], "nice": false, "zero": false}, "axis": null}}},
     {"data": {"values": [{}]}, "mark": {"type": "text", "text": "#VBW 8.0 MHz", "align": "center", "baseline": "middle", "fontSize": 12, "fontWeight": "bold", "color": "#ffffff"}, "encoding": {"x": {"datum": 3.69, "type": "quantitative", "scale": {"domain": [0,10], "range": [27.5,533], "nice": false, "zero": false}, "axis": null}, "y": {"datum": 4.8, "type": "quantitative", "scale": {"domain": [16.99,116.99], "range": [218,37], "nice": false, "zero": false}, "axis": null}}},
     {"data": {"values": [{}]}, "mark": {"type": "text", "text": "Span 0 Hz", "align": "right", "baseline": "middle", "fontSize": 12, "fontWeight": "bold", "color": "#ffffff"}, "encoding": {"x": {"datum": 10.0, "type": "quantitative", "scale": {"domain": [0,10], "range": [27.5,533], "nice": false, "zero": false}, "axis": null}, "y": {"datum": 12.0, "type": "quantitative", "scale": {"domain": [16.99,116.99], "range": [218,37], "nice": false, "zero": false}, "axis": null}}},
     {"data": {"values": [{}]}, "mark": {"type": "text", "text": "Sweep  10.00 ms (1001 pts)", "align": "right", "baseline": "middle", "fontSize": 12, "fontWeight": "bold", "color": "#ffffff"}, "encoding": {"x": {"datum": 10.02, "type": "quantitative", "scale": {"domain": [0,10], "range": [27.5,533], "nice": false, "zero": false}, "axis": null}, "y": {"datum": 4.8, "type": "quantitative", "scale": {"domain": [16.99,116.99], "range": [218,37], "nice": false, "zero": false}, "axis": null}}},
     {"data": {"values": [{}]}, "mark": {"type": "rect", "fillOpacity": 0, "stroke": "#00d000", "strokeWidth": 2}, "encoding": {"x": {"value": 1}, "x2": {"value": 536}, "y": {"value": 1}, "y2": {"value": 253}}}
    ]},
   {"width": 537, "height": 145, "view": {"fill": "#e2e2e2", "stroke": null}, "data": {"name": "tableR"},
    "layer": [
     {"mark": {"type": "rect", "color": "#000000", "stroke": "#8c8c8c", "strokeWidth": 1}, "encoding": {"x": {"value": 1}, "x2": {"value": 522}, "y": {"field": "mkr", "type": "ordinal", "scale": {"type": "band", "domain": [1,2,3,4,5,6,7,8,9,10,11], "range": [15.5,130.5], "paddingInner": 0, "paddingOuter": 0}, "axis": null}}},
     {"transform": [{"filter": "datum.mkr === 3"}], "mark": {"type": "rect", "color": "#22e022"}, "encoding": {"x": {"value": 1}, "x2": {"value": 21.6}, "y": {"field": "mkr", "type": "ordinal", "scale": {"type": "band", "domain": [1,2,3,4,5,6,7,8,9,10,11], "range": [15.5,130.5], "paddingInner": 0, "paddingOuter": 0}, "axis": null}}},
     {"data": {"values": [{}]}, "mark": {"type": "rule", "color": "#9a9a9a"}, "encoding": {"x": {"value": 21.6}, "y": {"value": 2}, "y2": {"value": 130.5}}},
     {"data": {"values": [{}]}, "mark": {"type": "rule", "color": "#9a9a9a"}, "encoding": {"x": {"value": 47.7}, "y": {"value": 2}, "y2": {"value": 130.5}}},
     {"data": {"values": [{}]}, "mark": {"type": "rule", "color": "#9a9a9a"}, "encoding": {"x": {"value": 64.9}, "y": {"value": 2}, "y2": {"value": 130.5}}},
     {"data": {"values": [{}]}, "mark": {"type": "rule", "color": "#9a9a9a"}, "encoding": {"x": {"value": 83.4}, "y": {"value": 2}, "y2": {"value": 130.5}}},
     {"data": {"values": [{}]}, "mark": {"type": "rule", "color": "#9a9a9a"}, "encoding": {"x": {"value": 207.7}, "y": {"value": 2}, "y2": {"value": 130.5}}},
     {"data": {"values": [{}]}, "mark": {"type": "rule", "color": "#9a9a9a"}, "encoding": {"x": {"value": 294}, "y": {"value": 2}, "y2": {"value": 130.5}}},
     {"data": {"values": [{}]}, "mark": {"type": "rule", "color": "#9a9a9a"}, "encoding": {"x": {"value": 361}, "y": {"value": 2}, "y2": {"value": 130.5}}},
     {"data": {"values": [{}]}, "mark": {"type": "rule", "color": "#9a9a9a"}, "encoding": {"x": {"value": 430}, "y": {"value": 2}, "y2": {"value": 130.5}}},
     {"data": {"values": [{}]}, "mark": {"type": "rect", "color": "#f2f2f2", "stroke": "#b8b8b8", "strokeWidth": 1}, "encoding": {"x": {"value": 524}, "x2": {"value": 533}, "y": {"value": 3}, "y2": {"value": 130}}},
     {"data": {"values": [{}]}, "mark": {"type": "rect", "color": "#f2f2f2", "stroke": "#b8b8b8", "strokeWidth": 1}, "encoding": {"x": {"value": 4}, "x2": {"value": 520}, "y": {"value": 133}, "y2": {"value": 140}}},
     {"data": {"values": [{}]}, "mark": {"type": "text", "text": "MKR", "fontSize": 5.5, "color": "#7a7a7a", "align": "center", "baseline": "middle"}, "encoding": {"x": {"value": 11}, "y": {"value": 8.5}}},
     {"data": {"values": [{}]}, "mark": {"type": "text", "text": "MODE", "fontSize": 5.5, "color": "#7a7a7a", "align": "center", "baseline": "middle"}, "encoding": {"x": {"value": 34.5}, "y": {"value": 8.5}}},
     {"data": {"values": [{}]}, "mark": {"type": "text", "text": "TRC", "fontSize": 5.5, "color": "#7a7a7a", "align": "center", "baseline": "middle"}, "encoding": {"x": {"value": 56}, "y": {"value": 8.5}}},
     {"data": {"values": [{}]}, "mark": {"type": "text", "text": "SCL", "fontSize": 5.5, "color": "#7a7a7a", "align": "center", "baseline": "middle"}, "encoding": {"x": {"value": 74}, "y": {"value": 8.5}}},
     {"data": {"values": [{}]}, "mark": {"type": "text", "text": "X", "fontSize": 5.5, "color": "#7a7a7a", "align": "center", "baseline": "middle"}, "encoding": {"x": {"value": 147}, "y": {"value": 8.5}}},
     {"data": {"values": [{}]}, "mark": {"type": "text", "text": "Y", "fontSize": 5.5, "color": "#7a7a7a", "align": "center", "baseline": "middle"}, "encoding": {"x": {"value": 251}, "y": {"value": 8.5}}},
     {"data": {"values": [{}]}, "mark": {"type": "text", "text": "FUNCTION", "fontSize": 5.5, "color": "#7a7a7a", "align": "center", "baseline": "middle"}, "encoding": {"x": {"value": 319}, "y": {"value": 8.5}}},
     {"data": {"values": [{}]}, "mark": {"type": "text", "text": "FUNCTION WIDTH", "fontSize": 5.5, "color": "#7a7a7a", "align": "center", "baseline": "middle"}, "encoding": {"x": {"value": 394}, "y": {"value": 8.5}}},
     {"data": {"values": [{}]}, "mark": {"type": "text", "text": "FUNCTION VALUE", "fontSize": 5.5, "color": "#7a7a7a", "align": "center", "baseline": "middle"}, "encoding": {"x": {"value": 476}, "y": {"value": 8.5}}},
     {"mark": {"type": "text", "fontSize": 10, "fontWeight": "bold", "align": "right", "baseline": "middle"}, "encoding": {"x": {"value": 18}, "y": {"field": "mkr", "type": "ordinal", "bandPosition": 0.5, "scale": {"type": "band", "domain": [1,2,3,4,5,6,7,8,9,10,11], "range": [15.5,130.5], "paddingInner": 0, "paddingOuter": 0}, "axis": null}, "text": {"field": "mkr"}, "color": {"condition": {"test": "datum.mkr === 3", "value": "#000000"}, "value": "#ffffff"}}},
     {"transform": [{"filter": "datum.mode"}], "mark": {"type": "text", "fontSize": 9.5, "fontWeight": "bold", "color": "#ffffff", "align": "center", "baseline": "middle"}, "encoding": {"x": {"value": 34.5}, "y": {"field": "mkr", "type": "ordinal", "bandPosition": 0.5, "scale": {"type": "band", "domain": [1,2,3,4,5,6,7,8,9,10,11], "range": [15.5,130.5], "paddingInner": 0, "paddingOuter": 0}, "axis": null}, "text": {"field": "mode"}}},
     {"transform": [{"filter": "datum.trc"}], "mark": {"type": "text", "fontSize": 9.5, "fontWeight": "bold", "color": "#f0e000", "align": "center", "baseline": "middle"}, "encoding": {"x": {"value": 56}, "y": {"field": "mkr", "type": "ordinal", "bandPosition": 0.5, "scale": {"type": "band", "domain": [1,2,3,4,5,6,7,8,9,10,11], "range": [15.5,130.5], "paddingInner": 0, "paddingOuter": 0}, "axis": null}, "text": {"field": "trc"}}},
     {"transform": [{"filter": "datum.scl"}], "mark": {"type": "text", "fontSize": 9.5, "fontWeight": "bold", "color": "#ffffff", "align": "center", "baseline": "middle"}, "encoding": {"x": {"value": 72}, "y": {"field": "mkr", "type": "ordinal", "bandPosition": 0.5, "scale": {"type": "band", "domain": [1,2,3,4,5,6,7,8,9,10,11], "range": [15.5,130.5], "paddingInner": 0, "paddingOuter": 0}, "axis": null}, "text": {"field": "scl"}}},
     {"transform": [{"filter": "datum.xref"}], "mark": {"type": "text", "fontSize": 9.5, "fontWeight": "bold", "color": "#ffffff", "align": "left", "baseline": "middle"}, "encoding": {"x": {"value": 86}, "y": {"field": "mkr", "type": "ordinal", "bandPosition": 0.5, "scale": {"type": "band", "domain": [1,2,3,4,5,6,7,8,9,10,11], "range": [15.5,130.5], "paddingInner": 0, "paddingOuter": 0}, "axis": null}, "text": {"field": "xref"}}},
     {"transform": [{"filter": "datum.xval"}], "mark": {"type": "text", "fontSize": 9.5, "fontWeight": "bold", "color": "#ffffff", "align": "right", "baseline": "middle"}, "encoding": {"x": {"value": 205}, "y": {"field": "mkr", "type": "ordinal", "bandPosition": 0.5, "scale": {"type": "band", "domain": [1,2,3,4,5,6,7,8,9,10,11], "range": [15.5,130.5], "paddingInner": 0, "paddingOuter": 0}, "axis": null}, "text": {"field": "xval"}}},
     {"transform": [{"filter": "datum.yref"}], "mark": {"type": "text", "fontSize": 9.5, "fontWeight": "bold", "color": "#ffffff", "align": "left", "baseline": "middle"}, "encoding": {"x": {"value": 211}, "y": {"field": "mkr", "type": "ordinal", "bandPosition": 0.5, "scale": {"type": "band", "domain": [1,2,3,4,5,6,7,8,9,10,11], "range": [15.5,130.5], "paddingInner": 0, "paddingOuter": 0}, "axis": null}, "text": {"field": "yref"}}},
     {"transform": [{"filter": "datum.yval"}], "mark": {"type": "text", "fontSize": 9.5, "fontWeight": "bold", "color": "#ffffff", "align": "right", "baseline": "middle"}, "encoding": {"x": {"value": 291}, "y": {"field": "mkr", "type": "ordinal", "bandPosition": 0.5, "scale": {"type": "band", "domain": [1,2,3,4,5,6,7,8,9,10,11], "range": [15.5,130.5], "paddingInner": 0, "paddingOuter": 0}, "axis": null}, "text": {"field": "yval"}}}
    ]},
   {"width": 537, "height": 20, "view": {"fill": "#d8d8d8", "stroke": null}, "data": {"values": [{}]},
    "layer": [
     {"mark": {"type": "rect", "color": "#f4c430"}, "encoding": {"x": {"value": 0}, "x2": {"value": 12}, "y": {"value": 1}, "y2": {"value": 19}}},
     {"mark": {"type": "text", "text": "MSG", "fontSize": 4.5, "color": "#806000", "align": "center", "baseline": "middle"}, "encoding": {"x": {"value": 6}, "y": {"value": 7}}},
     {"mark": {"type": "rule", "color": "#a8a8a8"}, "encoding": {"x": {"value": 400}, "y": {"value": 2}, "y2": {"value": 16}}},
     {"mark": {"type": "rule", "color": "#a8a8a8"}, "encoding": {"x": {"value": 435}, "y": {"value": 2}, "y2": {"value": 16}}},
     {"mark": {"type": "text", "text": "STATUS", "fontSize": 6, "color": "#707070", "align": "center", "baseline": "middle"}, "encoding": {"x": {"value": 417}, "y": {"value": 8}}}
    ]}
  ], "spacing": 0},
  {"vconcat": [
   {"width": 100, "height": 14, "view": {"fill": "#d8e5f2", "stroke": null}, "data": {"values": [{}]},
    "layer": [
     {"mark": {"type": "rect", "color": "#c2d8ec", "stroke": "#8eaacb"}, "encoding": {"x": {"value": 37}, "x2": {"value": 50}, "y": {"value": 2}, "y2": {"value": 11}}},
     {"mark": {"type": "rect", "color": "#c2d8ec", "stroke": "#8eaacb"}, "encoding": {"x": {"value": 53}, "x2": {"value": 68}, "y": {"value": 2}, "y2": {"value": 11}}},
     {"mark": {"type": "rect", "color": "#d4532c", "stroke": "#a03a20"}, "encoding": {"x": {"value": 72}, "x2": {"value": 98}, "y": {"value": 2}, "y2": {"value": 11}}}
    ]},
   {"width": 100, "height": 25, "view": {"fill": "#1f436b", "stroke": null}, "data": {"values": [{}]},
    "layer": [
     {"mark": {"type": "rect", "fill": {"gradient": "linear", "x1": 0, "y1": 0, "x2": 0, "y2": 1, "stops": [{"offset": 0, "color": "#3f74ab"}, {"offset": 1, "color": "#234f80"}]}}, "encoding": {"x": {"value": 2}, "x2": {"value": 97}, "y": {"value": 1}, "y2": {"value": 24}}},
     {"mark": {"type": "text", "text": "Marker", "fontSize": 10, "fontWeight": "bold", "color": "#ffffff", "align": "center", "baseline": "middle"}, "encoding": {"x": {"value": 50}, "y": {"value": 12}}}
    ]},
   {"width": 100, "height": 421, "view": {"fill": "#1f436b", "stroke": null}, "data": {"name": "buttons"},
    "layer": [
     {"transform": [{"filter": "datum.key !== 'Delta'"}], "mark": {"type": "rect", "fill": {"gradient": "linear", "x1": 0, "y1": 0, "x2": 0, "y2": 1, "stops": [{"offset": 0, "color": "#b4ddf4"}, {"offset": 0.1, "color": "#8cc6e9"}, {"offset": 0.72, "color": "#6db0dd"}, {"offset": 0.77, "color": "#5298cc"}, {"offset": 0.8, "color": "#2c66a2"}, {"offset": 1, "color": "#24578d"}]}}, "encoding": {"x": {"value": 2}, "x2": {"value": 97}, "y": {"field": "key", "type": "nominal", "sort": null, "scale": {"type": "band", "domain": ["Select Marker","Normal","Delta","Fixed","Off","Properties","More"], "paddingInner": 0.04, "paddingOuter": 0.01}, "axis": null}}},
     {"transform": [{"filter": "datum.key === 'Delta'"}], "mark": {"type": "rect", "fill": {"gradient": "linear", "x1": 0, "y1": 0, "x2": 0, "y2": 1, "stops": [{"offset": 0, "color": "#e8f5fc"}, {"offset": 0.72, "color": "#cfe8f6"}, {"offset": 0.77, "color": "#a6cfea"}, {"offset": 0.8, "color": "#2c66a2"}, {"offset": 1, "color": "#24578d"}]}}, "encoding": {"x": {"value": 2}, "x2": {"value": 97}, "y": {"field": "key", "type": "nominal", "sort": null, "scale": {"type": "band", "domain": ["Select Marker","Normal","Delta","Fixed","Off","Properties","More"], "paddingInner": 0.04, "paddingOuter": 0.01}, "axis": null}}},
     {"transform": [{"filter": "datum.sub === ''"}], "mark": {"type": "text", "align": "right", "baseline": "middle", "fontSize": 11.5, "fontWeight": "bold", "color": "#161620"}, "encoding": {"x": {"value": 96}, "y": {"field": "key", "type": "nominal", "sort": null, "bandPosition": 0.42, "scale": {"type": "band", "domain": ["Select Marker","Normal","Delta","Fixed","Off","Properties","More"], "paddingInner": 0.04, "paddingOuter": 0.01}, "axis": null}, "text": {"field": "label"}}},
     {"transform": [{"filter": "datum.sub !== ''"}], "mark": {"type": "text", "align": "right", "baseline": "middle", "fontSize": 11.5, "fontWeight": "bold", "color": "#161620"}, "encoding": {"x": {"value": 96}, "y": {"field": "key", "type": "nominal", "sort": null, "bandPosition": 0.26, "scale": {"type": "band", "domain": ["Select Marker","Normal","Delta","Fixed","Off","Properties","More"], "paddingInner": 0.04, "paddingOuter": 0.01}, "axis": null}, "text": {"field": "label"}}},
     {"transform": [{"filter": "datum.sub !== ''"}], "mark": {"type": "text", "align": "right", "baseline": "middle", "fontSize": 9.5, "fontWeight": "bold", "color": "#161620"}, "encoding": {"x": {"value": 95}, "y": {"field": "key", "type": "nominal", "sort": null, "bandPosition": 0.52, "scale": {"type": "band", "domain": ["Select Marker","Normal","Delta","Fixed","Off","Properties","More"], "paddingInner": 0.04, "paddingOuter": 0.01}, "axis": null}, "text": {"field": "sub"}}}
    ]},
   {"width": 100, "height": 20, "view": {"fill": "#d8d8d8", "stroke": null}, "data": {"values": [{}]}, "mark": {"type": "text", "text": ""}, "encoding": {}}
  ], "spacing": 0},
  {"width": 4, "height": 480, "view": {"fill": "#000000", "stroke": null}, "data": {"values": [{}]}, "mark": {"type": "text", "text": ""}, "encoding": {}}
 ], "spacing": 0}
], "spacing": 0}
]
}
